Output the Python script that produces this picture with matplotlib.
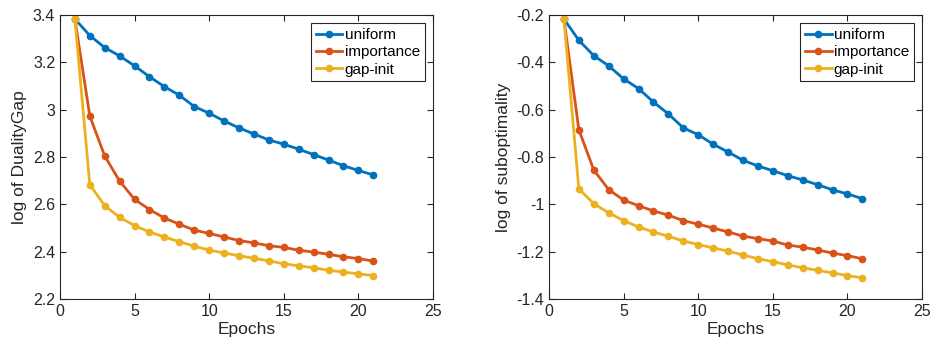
import matplotlib
matplotlib.use("Agg")
import matplotlib.pyplot as plt

plt.rcParams['font.family'] = ['Liberation Sans', 'DejaVu Sans']

epochs = list(range(1, 22))

gap_uniform = [3.383, 3.313, 3.262, 3.227, 3.185, 3.139, 3.097, 3.061, 3.013, 2.985, 2.952,
               2.923, 2.897, 2.872, 2.854, 2.833, 2.810, 2.787, 2.763, 2.743, 2.724]
gap_importance = [3.383, 2.973, 2.804, 2.698, 2.621, 2.578, 2.542, 2.516, 2.491, 2.477, 2.462,
                  2.447, 2.437, 2.425, 2.418, 2.406, 2.398, 2.389, 2.378, 2.371, 2.360]
gap_gapinit = [3.383, 2.683, 2.594, 2.545, 2.510, 2.483, 2.462, 2.442, 2.423, 2.407, 2.394,
               2.383, 2.372, 2.361, 2.349, 2.340, 2.332, 2.321, 2.314, 2.306, 2.299]

sub_uniform = [-0.217, -0.307, -0.372, -0.415, -0.470, -0.511, -0.568, -0.618, -0.677, -0.706, -0.746,
               -0.779, -0.814, -0.838, -0.858, -0.879, -0.897, -0.917, -0.939, -0.956, -0.976]
sub_importance = [-0.217, -0.685, -0.855, -0.938, -0.982, -1.006, -1.028, -1.046, -1.069, -1.084, -1.100,
                  -1.117, -1.134, -1.145, -1.155, -1.172, -1.181, -1.193, -1.206, -1.217, -1.230]
sub_gapinit = [-0.217, -0.935, -0.997, -1.036, -1.069, -1.096, -1.117, -1.135, -1.155, -1.170, -1.184,
               -1.198, -1.214, -1.230, -1.242, -1.256, -1.268, -1.279, -1.290, -1.301, -1.311]

labels = ['uniform', 'importance', 'gap-init']
colors = ['#0072BD', '#D95319', '#EDB120']

x_ticks = [0, 5, 10, 15, 20, 25]
left_yticks = [2.2, 2.4, 2.6, 2.8, 3.0, 3.2, 3.4]
left_yticklabels = ['2.2', '2.4', '2.6', '2.8', '3', '3.2', '3.4']
right_yticks = [-1.4, -1.2, -1.0, -0.8, -0.6, -0.4, -0.2]
right_yticklabels = ['-1.4', '-1.2', '-1', '-0.8', '-0.6', '-0.4', '-0.2']

fig = plt.figure(figsize=(9.31, 3.49), dpi=100)
ax1 = fig.add_axes([0.0644, 0.1433, 0.4007, 0.8138])
ax2 = fig.add_axes([0.5897, 0.1433, 0.4007, 0.8138])

def style(ax, series, yticks, yticklabels, ylabel):
    for s, lab, c in zip(series, labels, colors):
        ax.plot(epochs, s, '-o', color=c, lw=2, ms=4.5, label=lab)
    ax.set_xlim(0, 25)
    ax.set_ylim(yticks[0], yticks[-1])
    ax.set_xticks(x_ticks)
    ax.set_yticks(yticks)
    ax.set_yticklabels(yticklabels)
    ax.tick_params(direction='in', top=True, right=True, labelsize=11.5,
                   length=4, width=0.8, colors='#262626', labelcolor='#262626')
    for sp in ax.spines.values():
        sp.set_color('#262626')
        sp.set_linewidth(0.8)
    ax.set_xlabel('Epochs', fontsize=12.5, color='#262626', labelpad=2)
    ax.set_ylabel(ylabel, fontsize=12.5, color='#262626', labelpad=4)
    leg = ax.legend(loc='upper right', fontsize=11, frameon=True, fancybox=False,
                    edgecolor='#262626', handlelength=1.75, handletextpad=0.15,
                    borderpad=0.3, labelspacing=0.22, borderaxespad=0.55,
                    framealpha=1.0)
    leg.get_frame().set_linewidth(0.8)

style(ax1, [gap_uniform, gap_importance, gap_gapinit], left_yticks, left_yticklabels, 'log of DualityGap')
style(ax2, [sub_uniform, sub_importance, sub_gapinit], right_yticks, right_yticklabels, 'log of suboptimality')

fig.savefig('out.png', dpi=100)
